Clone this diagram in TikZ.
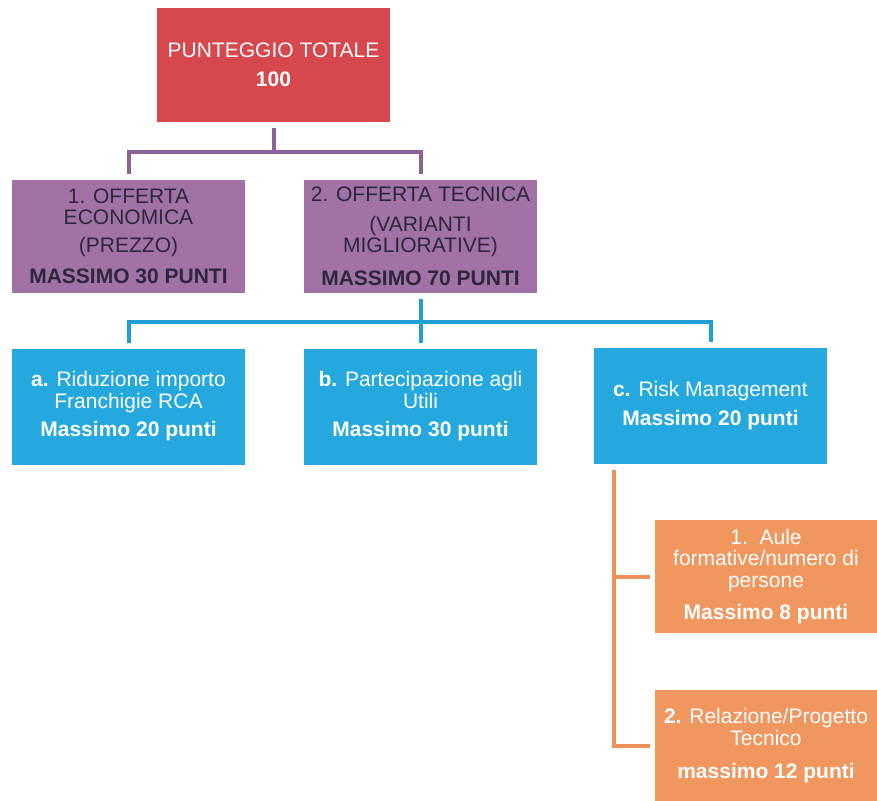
\documentclass[tikz,border=0pt]{standalone}
\usepackage{fontspec}
\setmainfont{Liberation Sans}
\definecolor{redfill}{RGB}{214,72,78}
\definecolor{purpfill}{RGB}{162,114,166}
\definecolor{purpline}{RGB}{142,98,150}
\definecolor{purptext}{RGB}{42,40,58}
\definecolor{bluefill}{RGB}{36,168,222}
\definecolor{blueline}{RGB}{30,160,215}
\definecolor{orfill}{RGB}{240,150,95}
\definecolor{orline}{RGB}{236,146,88}
\tikzset{
  box/.style={rectangle, inner sep=0pt, align=center,
    font=\fontsize{21}{21.5}\selectfont},
  redbox/.style={box, fill=redfill, text=white, minimum width=233pt, minimum height=114pt},
  purpbox/.style={box, fill=purpfill, text=purptext, minimum width=233pt, minimum height=113pt},
  bluebox/.style={box, fill=bluefill, text=white, minimum width=233pt, minimum height=116pt},
  orbox/.style={box, fill=orfill, text=white, minimum width=222pt},
  pline/.style={draw=purpline, line width=4pt},
  bline/.style={draw=blueline, line width=4pt},
  oline/.style={draw=orline, line width=4pt},
}
\begin{document}
\begin{tikzpicture}[x=1pt,y=-1pt]
\clip (0,0) rectangle (877,800);
\useasboundingbox (0,0) rectangle (877,800);
\fill[white] (0,0) rectangle (877,800);

\node[redbox] (red) at (273.5,65) {PUNTEGGIO TOTALE\\[8pt]\textbf{100}};

\node[purpbox] (p1) at (128.5,236.5) {1. OFFERTA\\ECONOMICA\\[6pt](PREZZO)\\[10pt]\textbf{MASSIMO 30 PUNTI}};
\node[purpbox] (p2) at (420.5,236.5) {2. OFFERTA TECNICA\\[8pt](VARIANTI\\MIGLIORATIVE)\\[11pt]\textbf{MASSIMO 70 PUNTI}};

\node[bluebox] (b1) at (128.5,406.5) {\textbf{a.} Riduzione importo\\Franchigie RCA\\[7pt]\textbf{Massimo 20 punti}};
\node[bluebox] (b2) at (420.5,406.5) {\textbf{b.} Partecipazione agli\\Utili\\[7pt]\textbf{Massimo 30 punti}};
\node[bluebox] (b3) at (710.5,405.5) {\textbf{c.} Risk Management\\[8pt]\textbf{Massimo 20 punti}};

\node[orbox, minimum height=113pt] (o1) at (766,576.5) {1.\ \ Aule\\formative/numero di\\persone\\[11pt]\textbf{Massimo 8 punti}};
\node[orbox, minimum height=112pt] (o2) at (766,746) {\textbf{2.} Relazione/Progetto\\Tecnico\\[12pt]\textbf{massimo 12 punti}};

% purple connectors
\coordinate (pj) at (273.5,152);
\draw[pline] ([yshift=-6pt]red.south) -- (pj);
\draw[pline] ([yshift=6pt]p1.north) |- (pj) -| ([yshift=6pt]p2.north);

% blue connectors
\coordinate (bj) at (420.5,322);
\draw[bline] ([yshift=-6pt]p2.south) -- ([yshift=5pt]b2.north);
\draw[bline] ([yshift=5pt]b1.north) |- (bj) -| ([yshift=5pt]b3.north);

% orange connectors
\coordinate (ot) at (614,470);
\draw[oline] (ot) |- ([xshift=-5pt]o2.west);
\draw[oline] (ot |- o1.west) -- ([xshift=-5pt]o1.west);
\end{tikzpicture}
\end{document}
